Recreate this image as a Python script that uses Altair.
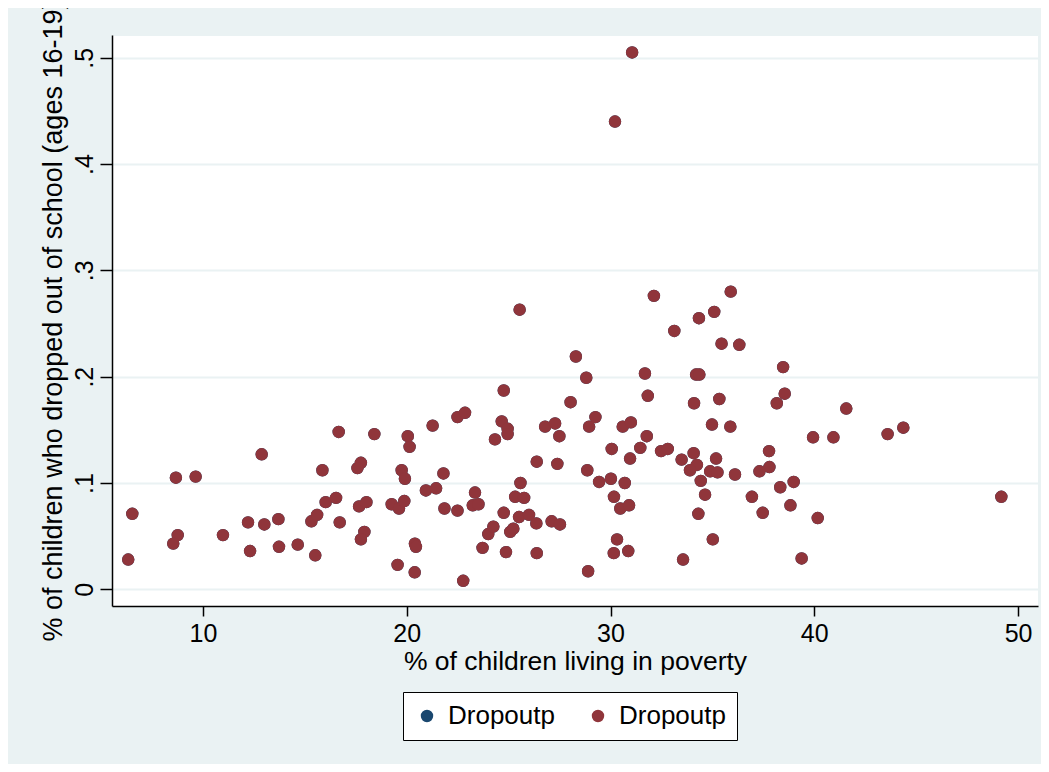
import altair as alt
import pandas as pd

poverty = [6.53, 6.33, 8.67, 9.64, 8.76, 8.54, 10.98, 12.88, 12.21, 12.31,
           13.01, 13.70, 13.73, 14.65, 15.51, 15.32, 15.60, 15.86, 16.02, 16.53,
           16.66, 16.71, 18.41, 17.75, 17.58, 17.66, 18.02, 17.92, 17.75, 20.05,
           20.14, 21.27, 19.75, 19.91, 19.26, 19.62, 19.88, 20.40, 20.45, 19.55,
           20.39, 20.94, 21.44, 21.80, 21.85, 22.49, 22.77, 22.49, 22.86, 23.35,
           23.24, 23.52, 24.76, 24.66, 24.95, 24.95, 24.33, 23.72, 24.00, 24.25,
           24.76, 24.87, 25.08, 25.23, 25.58, 25.32, 25.76, 25.51, 26.00, 26.36,
           26.38, 25.54, 26.38, 27.39, 26.79, 27.28, 27.49, 27.11, 27.52, 28.30,
           28.04, 32.13, 35.90, 28.81, 29.26, 28.95, 31.69, 31.83, 33.13, 34.34,
           35.09, 35.45, 36.32, 34.20, 34.36, 34.10, 35.34, 34.98, 35.88, 38.47,
           38.55, 38.16, 30.60, 31.00, 31.78, 31.46, 32.48, 32.81, 30.06, 30.96,
           28.86, 29.44, 30.02, 30.70, 30.17, 30.48, 30.91, 30.32, 30.16, 30.87,
           28.90, 33.49, 34.08, 34.24, 33.90, 35.18, 34.89, 35.25, 34.43, 34.64,
           34.31, 35.02, 33.56, 36.11, 37.78, 37.80, 37.31, 38.33, 38.99, 36.94,
           37.47, 38.83, 39.38, 41.57, 39.94, 40.94, 43.60, 44.37, 49.18, 40.17,
           31.06, 30.22]

dropout = [0.071, 0.028, 0.105, 0.106, 0.051, 0.043, 0.051, 0.127, 0.063, 0.036,
           0.061, 0.066, 0.040, 0.042, 0.032, 0.064, 0.070, 0.112, 0.082, 0.086,
           0.148, 0.063, 0.146, 0.119, 0.114, 0.078, 0.082, 0.054, 0.047, 0.144,
           0.134, 0.154, 0.112, 0.104, 0.080, 0.076, 0.083, 0.043, 0.040, 0.023,
           0.016, 0.093, 0.095, 0.109, 0.076, 0.074, 0.008, 0.162, 0.166, 0.091,
           0.079, 0.080, 0.187, 0.158, 0.151, 0.146, 0.141, 0.039, 0.052, 0.059,
           0.072, 0.035, 0.054, 0.057, 0.100, 0.087, 0.086, 0.068, 0.070, 0.062,
           0.034, 0.263, 0.120, 0.118, 0.153, 0.156, 0.144, 0.064, 0.061, 0.219,
           0.176, 0.276, 0.280, 0.199, 0.162, 0.153, 0.203, 0.182, 0.243, 0.255,
           0.261, 0.231, 0.230, 0.202, 0.202, 0.175, 0.179, 0.155, 0.153, 0.209,
           0.184, 0.175, 0.153, 0.157, 0.144, 0.133, 0.130, 0.132, 0.132, 0.123,
           0.112, 0.101, 0.104, 0.100, 0.087, 0.076, 0.079, 0.047, 0.034, 0.036,
           0.017, 0.122, 0.128, 0.117, 0.112, 0.123, 0.111, 0.110, 0.102, 0.089,
           0.071, 0.047, 0.028, 0.108, 0.130, 0.115, 0.111, 0.096, 0.101, 0.087,
           0.072, 0.079, 0.029, 0.170, 0.143, 0.143, 0.146, 0.152, 0.087, 0.067,
           0.505, 0.440]

series_keys = ["s1", "s2"]
series_label = "Dropoutp"
series_colors = ["#1A476F", "#90353B"]
y_ticks = [0, 0.1, 0.2, 0.3, 0.4, 0.5]
x_ticks = [10, 20, 30, 40, 50]

rows = []
for key in series_keys:
    for xv, yv in zip(poverty, dropout):
        rows.append({"poverty": xv, "dropout": yv, "series": key})
df = pd.DataFrame(rows)

FONT = "Liberation Sans"

chart = alt.Chart(df).mark_circle(size=154, opacity=1).encode(
    x=alt.X("poverty:Q",
            scale=alt.Scale(domain=[5.534, 50.98], nice=False, zero=False),
            axis=alt.Axis(values=x_ticks, title="% of children living in poverty",
                          grid=False, domain=True, domainColor="black", domainWidth=1.5,
                          tickColor="black", tickWidth=1.5, tickSize=10,
                          labelFontSize=25, labelPadding=5, labelColor="black",
                          labelFont=FONT, titleFont=FONT, titleFontSize=26.5,
                          titleFontWeight="normal", titleColor="black",
                          titleBaseline="alphabetic", titleY=63)),
    y=alt.Y("dropout:Q",
            scale=alt.Scale(domain=[-0.0157, 0.5214], nice=False, zero=False),
            axis=alt.Axis(values=y_ticks, title="% of children who dropped out of school (ages 16-19)",
                          grid=True, gridColor="#EAF2F3", gridWidth=1.8,
                          domain=True, domainColor="black", domainWidth=1.5,
                          tickColor="black", tickWidth=1.5, tickSize=12,
                          labelExpr="datum.value == 0 ? '0' : replace(format(datum.value, '.1f'), '0.', '.')",
                          labelAngle=270, labelAlign="center", labelBaseline="alphabetic",
                          labelFontSize=25, labelPadding=8, labelColor="black", labelFont=FONT,
                          titleFont=FONT, titleFontSize=27, titleFontWeight="normal",
                          titleColor="black", titleAngle=270, titleAlign="center",
                          titleBaseline="alphabetic", titleX=-51)),
    color=alt.Color("series:N",
                    scale=alt.Scale(domain=series_keys, range=series_colors),
                    legend=alt.Legend(title=None, orient="none", legendX=291, legendY=657,
                                      direction="horizontal",
                                      labelExpr="'" + series_label + "'",
                                      labelFont=FONT, labelFontSize=26, labelColor="black",
                                      symbolType="circle", symbolSize=154,
                                      symbolStrokeWidth=0, labelOffset=8,
                                      columnPadding=30, padding=11,
                                      fillColor="white", strokeColor="black")),
    order=alt.Order("series:N")
).properties(
    width=926,
    height=571,
    background="#EAF2F3",
    padding={"left": 104, "top": 27, "right": 3, "bottom": 158},
    autosize=alt.AutoSizeParams(type="none")
).configure_view(
    fill="white",
    stroke="#EAF2F3"
)

chart.save("out.html", embed_options={"renderer": "svg", "actions": False})
